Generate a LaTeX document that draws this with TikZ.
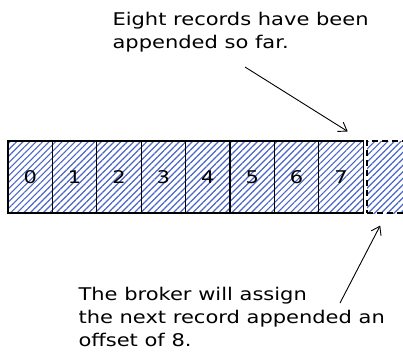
\documentclass[tikz,border=0pt]{standalone}
\usepackage{fontspec}
\setmainfont[FakeStretch=1.2]{DejaVu Sans}
\usetikzlibrary{patterns.meta,arrows.meta}
\definecolor{hatchblue}{HTML}{4A66C4}

\begin{document}
\begin{tikzpicture}[x=1pt, y=-1pt, line width=1.1pt, font=\fontsize{17.5}{23}\selectfont,
  cell/.style={draw, minimum width=44.4pt, minimum height=72pt, inner sep=0pt,
    preaction={solid, pattern={Lines[angle=45, distance=4.6pt, line width=1.2pt]}, pattern color=hatchblue}},
  note/.style={align=left, inner sep=0pt, anchor=north west},
  pointer/.style={-{Straight Barb[length=8pt, width=11pt]}, line width=0.9pt}]
  \useasboundingbox (0,0) rectangle (403,360);
  % the log: eight records and the next free slot
  \foreach \i in {0,...,7}
    \node[cell] (c\i) at ({30.2+44.4*\i},177) {\i};
  \node[cell, dash pattern=on 6pt off 4pt] (c8) at (389.2,177) {};
  \node[note] (top) at (112,12) {Eight records have been\\appended so far.};
  \node[note] (bot) at (78,287) {The broker will assign\\the next record appended an\\offset of 8.};
  \coordinate (topTail) at (245,67);
  \coordinate (botTail) at (340,303);
  \draw[pointer] (topTail) -- ([xshift=-16pt, yshift=9pt]c7.north east);
  \draw[pointer] (botTail) -- ([xshift=-9pt, yshift=-12pt]c8.south);
\end{tikzpicture}
\end{document}
